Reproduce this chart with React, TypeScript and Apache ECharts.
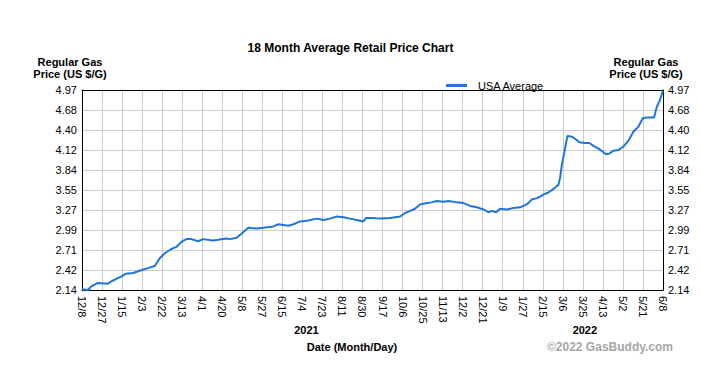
import React, { useEffect, useRef } from "react";
import * as echarts from "echarts";

const xLabels = [
  "12/8", "12/27", "1/15", "2/3", "2/22", "3/13", "4/1", "4/20", "5/8", "5/27",
  "6/15", "7/4", "7/23", "8/11", "8/30", "9/17", "10/6", "10/25", "11/13", "12/2",
  "12/21", "1/9", "1/27", "2/15", "3/6", "3/25", "4/13", "5/2", "5/21", "6/8",
];

const yLabels = ["2.14", "2.42", "2.71", "2.99", "3.27", "3.55", "3.84", "4.12", "4.40", "4.68", "4.97"];

const seriesName = "USA Average";

// positions measured in tick-index units along the date axis
const datePos = [
  0, 0.3, 0.46, 0.8, 1.3, 1.45, 1.95, 2.2, 2.55, 2.95, 3.3, 3.63, 3.88, 4.13, 4.46, 4.71, 4.96, 5.21,
  5.46, 5.79, 6.04, 6.54, 6.79, 7.2, 7.39, 7.72, 7.97, 8.3, 8.72, 9.05, 9.55, 9.8, 10.05, 10.3, 10.55,
  10.88, 11.22, 11.72, 12.05, 12.38, 12.72, 13.05, 13.38, 13.72, 14.04, 14.18, 14.54, 14.88, 15.38,
  15.88, 16.13, 16.38, 16.62, 16.87, 17.21, 17.46, 17.71, 18.04, 18.29, 18.71, 19.04, 19.37, 19.71,
  20.04, 20.28, 20.45, 20.67, 20.87, 21.2, 21.53, 21.87, 22.12, 22.28, 22.45, 22.7, 22.86, 23.03,
  23.28, 23.53, 23.78, 23.86, 23.95, 24.11, 24.23, 24.45, 24.61, 24.83, 25.11, 25.33, 25.53, 25.78,
  26.03, 26.16, 26.32, 26.52, 26.77, 27.02, 27.27, 27.52, 27.77, 27.99, 28.19, 28.55, 28.69, 28.85, 29,
];

const prices = [
  2.15, 2.14, 2.19, 2.24, 2.23, 2.26, 2.33, 2.37, 2.38, 2.42, 2.45, 2.48, 2.59, 2.66, 2.72, 2.75, 2.82, 2.86,
  2.86, 2.83, 2.86, 2.84, 2.85, 2.87, 2.86, 2.88, 2.94, 3.02, 3.01, 3.02, 3.04, 3.07, 3.06, 3.05, 3.07,
  3.11, 3.12, 3.15, 3.13, 3.15, 3.18, 3.17, 3.15, 3.13, 3.11, 3.16, 3.16, 3.15, 3.16,
  3.18, 3.23, 3.26, 3.29, 3.35, 3.37, 3.38, 3.4, 3.39, 3.4, 3.38, 3.37, 3.33, 3.31,
  3.28, 3.24, 3.26, 3.24, 3.29, 3.28, 3.3, 3.31, 3.34, 3.37, 3.42, 3.44, 3.46, 3.49,
  3.52, 3.57, 3.63, 3.72, 3.91, 4.14, 4.32, 4.31, 4.28, 4.23, 4.22, 4.22, 4.18, 4.14,
  4.09, 4.06, 4.07, 4.11, 4.12, 4.17, 4.25, 4.38, 4.45, 4.57, 4.58, 4.58, 4.73, 4.83, 4.96,
];

const yearLabels = [
  { text: "2021", pos: 11.2 },
  { text: "2022", pos: 25.1 },
];

const FONT = "Arial, 'Liberation Sans', sans-serif";

export default function App() {
  const ref = useRef<HTMLDivElement>(null);

  useEffect(() => {
    if (!ref.current) return;
    const chart = echarts.init(ref.current, null, { renderer: "svg" });
    const yMin = parseFloat(yLabels[0]);
    const yMax = parseFloat(yLabels[yLabels.length - 1]);
    const step = (yMax - yMin) / (yLabels.length - 1);
    const data = datePos.map((x, i) => [x, (prices[i] - yMin) / step]);

    const gridLeft = 82;
    const gridTop = 90;
    const gridW = 581;
    const gridH = 200;
    const xToPx = (v: number) => gridLeft + (v / (xLabels.length - 1)) * gridW;

    const axisLineStyle = { show: true, onZero: false, lineStyle: { color: "#000", width: 1 } };
    const splitStyle = { show: true, lineStyle: { color: "#cccccc", width: 1, type: "solid" } };

    chart.setOption({
      animation: false,
      backgroundColor: "#fff",
      textStyle: { fontFamily: FONT },
      title: {
        text: "18 Month Average Retail Price Chart",
        left: "center",
        top: 37,
        textStyle: { fontSize: 12, fontWeight: "bold", color: "#000", fontFamily: FONT },
      },
      legend: {
        data: [seriesName],
        left: 441,
        top: 75,
        itemWidth: 21,
        itemHeight: 3,
        icon: "rect",
        textStyle: { fontSize: 11, color: "#000", fontFamily: FONT, padding: [0, 0, 0, 6] },
      },
      grid: {
        left: gridLeft,
        top: gridTop,
        width: gridW,
        height: gridH,
        show: false,
        containLabel: false,
      },
      xAxis: [
        {
          type: "value",
          min: 0,
          max: xLabels.length - 1,
          interval: 1,
          position: "bottom",
          axisLine: axisLineStyle,
          axisTick: { show: false },
          splitLine: splitStyle,
          axisLabel: {
            rotate: -90,
            margin: 6,
            fontSize: 11,
            color: "#000",
            fontFamily: FONT,
            showMinLabel: true,
            showMaxLabel: true,
            formatter: (v: number) => xLabels[Math.round(v)] ?? "",
          },
        },
        {
          type: "value",
          min: 0,
          max: xLabels.length - 1,
          interval: 1,
          position: "top",
          axisLine: axisLineStyle,
          axisTick: { show: false },
          axisLabel: { show: false },
          splitLine: { show: false },
        },
      ],
      yAxis: [
        {
          type: "value",
          min: 0,
          max: yLabels.length - 1,
          interval: 1,
          position: "left",
          axisLine: axisLineStyle,
          axisTick: { show: false },
          splitLine: splitStyle,
          axisLabel: {
            fontSize: 11,
            color: "#000",
            fontFamily: FONT,
            margin: 5,
            align: "right",
            showMinLabel: true,
            showMaxLabel: true,
            formatter: (v: number) => yLabels[Math.round(v)] ?? "",
          },
        },
        {
          type: "value",
          min: 0,
          max: yLabels.length - 1,
          interval: 1,
          position: "right",
          axisLine: axisLineStyle,
          axisTick: { show: false },
          splitLine: { show: false },
          axisLabel: {
            fontSize: 11,
            color: "#000",
            fontFamily: FONT,
            margin: 5,
            align: "left",
            showMinLabel: true,
            showMaxLabel: true,
            formatter: (v: number) => yLabels[Math.round(v)] ?? "",
          },
        },
      ],
      series: [
        {
          name: seriesName,
          type: "line",
          xAxisIndex: 0,
          yAxisIndex: 0,
          data,
          symbol: "none",
          showSymbol: false,
          smooth: false,
          lineStyle: { color: "#1f75dc", width: 2 },
          itemStyle: { color: "#1f75dc" },
          z: 3,
        },
      ],
      graphic: [
        {
          type: "text",
          x: 70,
          y: 68,
          style: {
            text: "Regular Gas\nPrice (US $/G)",
            align: "center",
            verticalAlign: "middle",
            fontSize: 11,
            fontWeight: "bold",
            lineHeight: 12,
            fill: "#000",
            fontFamily: FONT,
          },
        },
        {
          type: "text",
          x: 646,
          y: 68,
          style: {
            text: "Regular Gas\nPrice (US $/G)",
            align: "center",
            verticalAlign: "middle",
            fontSize: 11,
            fontWeight: "bold",
            lineHeight: 12,
            fill: "#000",
            fontFamily: FONT,
          },
        },
        ...yearLabels.map((yl) => ({
          type: "text",
          x: xToPx(yl.pos),
          y: 330,
          style: {
            text: yl.text,
            align: "center",
            verticalAlign: "middle",
            fontSize: 11,
            fontWeight: "bold",
            fill: "#000",
            fontFamily: FONT,
          },
        })),
        {
          type: "text",
          x: 352,
          y: 347,
          style: {
            text: "Date (Month/Day)",
            align: "center",
            verticalAlign: "middle",
            fontSize: 11,
            fontWeight: "bold",
            fill: "#000",
            fontFamily: FONT,
          },
        },
        {
          type: "text",
          x: 673,
          y: 347,
          style: {
            text: "©2022 GasBuddy.com",
            align: "right",
            verticalAlign: "middle",
            fontSize: 12,
            fontWeight: "bold",
            fill: "#a6a6a6",
            fontFamily: FONT,
          },
        },
      ],
    });

    return () => {
      chart.dispose();
    };
  }, []);

  return (
    <div
      ref={ref}
      style={{ position: "absolute", left: 0, top: 0, width: 701, height: 375 }}
    />
  );
}
